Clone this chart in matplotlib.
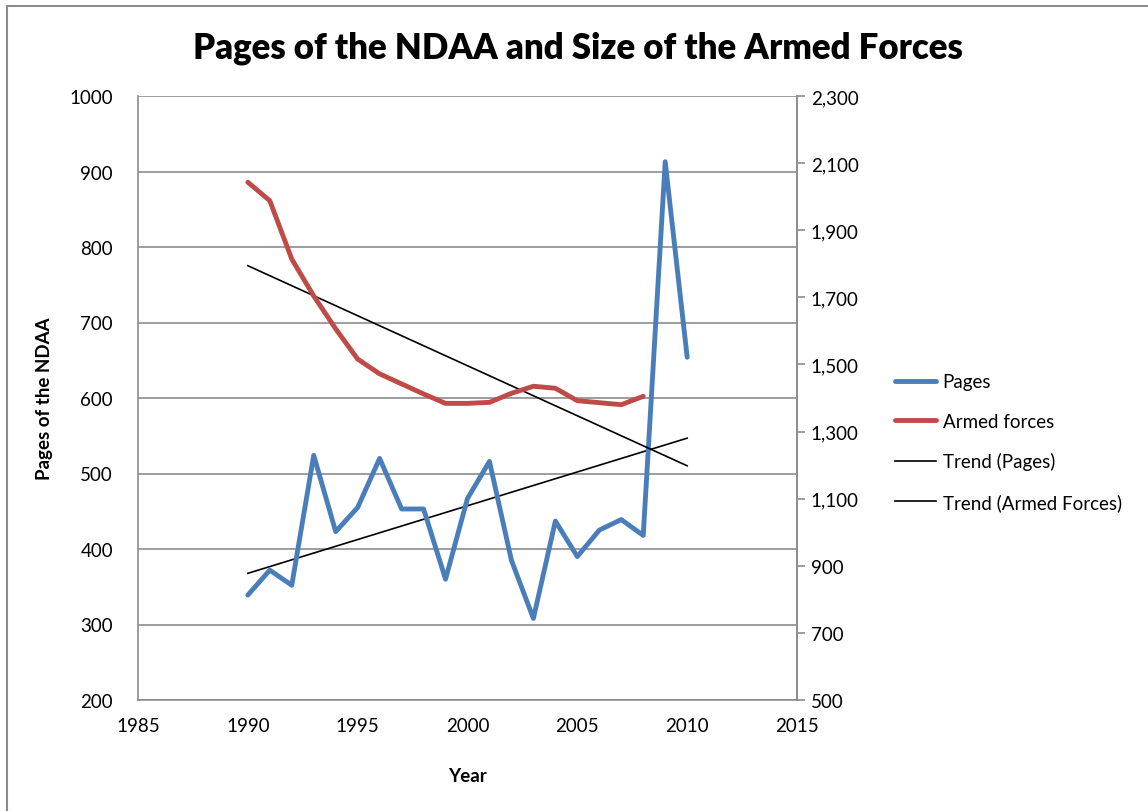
import matplotlib.pyplot as plt
import matplotlib.ticker as mticker
from matplotlib.patches import Rectangle
import numpy as np

# ====== Data ====== #
years = list(range(1990, 2011))
pages = [339, 372, 352, 524, 423, 455, 520, 453, 453, 360, 467,
         516, 385, 308, 437, 390, 425, 439, 418, 913, 654]
force_years = list(range(1990, 2009))
armed_forces = [2043, 1988, 1814, 1704, 1606, 1516, 1472, 1442, 1412, 1384,
                1384, 1387, 1414, 1435, 1429, 1392, 1386, 1380, 1405]

# ====== Style ====== #
FONT = "Lato"
BLUE = "#4a7ebb"
RED = "#be4b48"
GRID = "#8c8c8c"

plt.rcParams['font.family'] = [FONT, 'DejaVu Sans']

fig = plt.figure(figsize=(11.48, 8.12), dpi=100)
fig.patches.append(Rectangle((7 / 1148, -0.1), 1.2, (812 - 7) / 812 + 0.1,
                             transform=fig.transFigure, fill=False,
                             edgecolor="#8c8c8c", linewidth=1.5))

ax = fig.add_axes([138 / 1148, 1 - 701 / 812, 659 / 1148, 604 / 812])
ax2 = ax.twinx()

# linear trends, like Excel's trendlines
p_fit = np.polyfit(years, pages, 1)
a_fit = np.polyfit(force_years, armed_forces, 1)
yrs = np.array(years)

l1, = ax.plot(years, pages, color=BLUE, lw=3.5, solid_capstyle='round',
              solid_joinstyle='round', label="Pages", zorder=3)
l3, = ax.plot(yrs, np.polyval(p_fit, yrs), color="black", lw=1.2,
              label="Trend (Pages)", zorder=2)
l2, = ax2.plot(force_years, armed_forces, color=RED, lw=3.5,
               solid_capstyle='round', solid_joinstyle='round',
               label="Armed forces", zorder=3)
l4, = ax2.plot(yrs, np.polyval(a_fit, yrs), color="black", lw=1.2,
               label="Trend (Armed Forces)", zorder=2)

ax.set_xlim(1985, 2015)
ax.set_ylim(200, 1000)
ax2.set_ylim(500, 2300)
ax.set_xticks(range(1985, 2016, 5))
ax.set_yticks(range(200, 1001, 100))
ax2.set_yticks(range(500, 2301, 200))
ax2.yaxis.set_major_formatter(mticker.FuncFormatter(lambda v, p: f"{int(v):,}"))

ax.grid(axis='y', color=GRID, lw=1.2)
ax.set_axisbelow(True)

for a in (ax, ax2):
    a.spines['top'].set_visible(False)
    for s in ('left', 'right', 'bottom'):
        a.spines[s].set_color(GRID)
        a.spines[s].set_linewidth(1.2)
ax2.spines['left'].set_visible(False)
ax2.spines['bottom'].set_visible(False)

ax.tick_params(axis='x', length=0, labelsize=13.5, pad=12)
ax.tick_params(axis='y', length=0, labelsize=13.5, pad=18)
ax2.tick_params(axis='y', length=6, width=1.2, color=GRID, direction='out',
                labelsize=13.5, pad=4)

ax.set_xlabel("Year", fontsize=13.5, fontweight='bold', labelpad=24)
ax.set_ylabel("Pages of the NDAA", fontsize=13.5, fontweight='bold', labelpad=12)

fig.text(0.503, 1 - 48 / 812, "Pages of the NDAA and Size of the Armed Forces",
         ha='center', va='center', fontsize=25, fontweight='heavy')

fig.legend(handles=[l1, l2, l3, l4], loc='center left',
           bbox_to_anchor=(878 / 1148, 1 - 443 / 812), frameon=False,
           fontsize=13.5, handlelength=2.2, handletextpad=0.35, labelspacing=1.2)

fig.savefig("out.png", dpi=100)
